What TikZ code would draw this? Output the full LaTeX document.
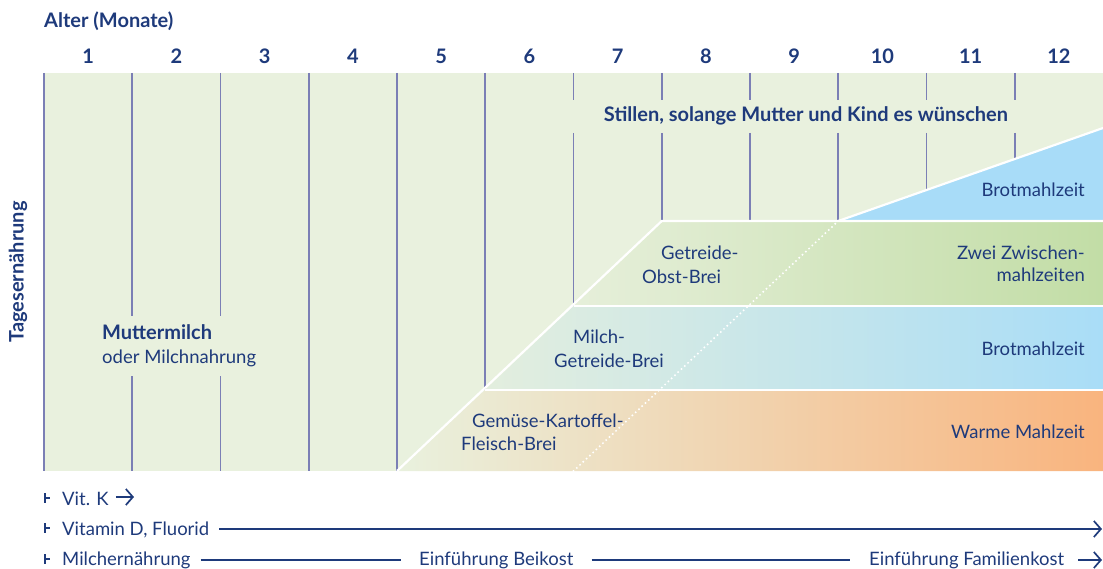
\documentclass[tikz,border=0pt]{standalone}
\usepackage{fontspec}
\setmainfont{Lato}
\usetikzlibrary{arrows.meta}

\definecolor{navy}{HTML}{1E3A7B}
\definecolor{bggreen}{HTML}{E9F1DE}
\definecolor{gridline}{HTML}{7B7FB5}
\definecolor{orangeR}{HTML}{F9B47E}
\definecolor{blueL}{HTML}{E3EEDE}
\definecolor{blueR}{HTML}{A9DDF7}
\definecolor{greenL}{HTML}{E6EFDA}
\definecolor{greenR}{HTML}{C2DDA6}
\definecolor{skyblue}{HTML}{A8DCF8}

\tikzset{
  lbl/.style={text=navy, inner sep=0pt, font=\fontsize{18.5}{22}\selectfont},
  boldlbl/.style={text=navy, inner sep=0pt, font=\fontsize{20}{24}\selectfont\bfseries},
  gridln/.style={gridline, line width=1.6pt},
  sepln/.style={white, line width=2.2pt},
  timeline/.style={navy, line width=1.5pt},
  barb/.style={-{Straight Barb[length=7pt,width=16pt,line width=1.7pt]}}
}

\begin{document}
\begin{tikzpicture}[x=1pt,y=-1pt]
\useasboundingbox (0,0) rectangle (1103,569);
\fill[bggreen] (44,73) rectangle (1103,471);
\foreach \i/\ya/\yb in {0/73/471, 1/73/316, 1/376/471, 2/73/316, 2/376/471, 3/73/471, 4/73/471, 5/73/390,
  6/73/100, 6/133/306, 7/73/100, 7/133/221, 8/73/100, 8/133/221, 9/73/100, 9/133/221,
  10/73/100, 10/133/190, 11/73/100, 11/133/159}
  \draw[gridln] ({44+\i*88.25},\ya) -- ({44+\i*88.25},\yb);
\shade[left color=bggreen, right color=orangeR] (397,471) -- (485.25,390) -- (1103,390) -- (1103,471) -- cycle;
\shade[left color=blueL, right color=blueR] (485.25,390) -- (573.5,306) -- (1103,306) -- (1103,390) -- cycle;
\shade[left color=greenL, right color=greenR] (573.5,306) -- (661.75,221) -- (1103,221) -- (1103,306) -- cycle;
\fill[skyblue] (838.25,221) -- (1103,128) -- (1103,221) -- cycle;
\draw[sepln] (397,471) -- (661.75,221) -- (1103,221);
\draw[sepln] (485.25,390) -- (1103,390);
\draw[sepln] (573.5,306) -- (1103,306);
\draw[sepln] (838.25,221) -- (1103,128);
\draw[white, line width=2.2pt, dash pattern=on 0pt off 4.5pt, line cap=round] (573.5,471) -- (838.25,221);

\node[boldlbl, anchor=base west] (alter) at (44,28) {Alter (Monate)};
\foreach \m in {1,...,12}
  \node[boldlbl, anchor=base] (m\m) at ({44+(\m-0.5)*88.25},64) {\m};
\node[boldlbl, rotate=90] (tages) at (18,272) {Tagesernährung};
\node[boldlbl, anchor=base] (stillen) at (806,122) {Stillen, solange Mutter und Kind es wünschen};
\node[boldlbl, anchor=base west] (mutter) at (102,340) {Muttermilch};
\node[lbl, anchor=base west] (milchnahrung) at (102,363) {oder Milchnahrung};
\node[lbl, anchor=base west] (getreide1) at (661,260) {Getreide-};
\node[lbl, anchor=base west] (getreide2) at (642,284) {Obst-Brei};
\node[lbl, anchor=base west] (milchbrei1) at (573,343) {Milch-};
\node[lbl, anchor=base west] (milchbrei2) at (554,367) {Getreide-Brei};
\node[lbl, anchor=base west] (gemuese1) at (472,427) {Gemüse-Kartoffel-};
\node[lbl, anchor=base west] (gemuese2) at (461,450) {Fleisch-Brei};
\node[lbl, anchor=base east] (brot1) at (1085,197) {Brotmahlzeit};
\node[lbl, anchor=base east] (zwei1) at (1085,260) {Zwei Zwischen-};
\node[lbl, anchor=base east] (zwei2) at (1085,282) {mahlzeiten};
\node[lbl, anchor=base east] (brot2) at (1085,355) {Brotmahlzeit};
\node[lbl, anchor=base east] (warm) at (1085,438) {Warme Mahlzeit};

\node[lbl, anchor=base west] (vitk) at (62,505) {Vit. K};
\node[lbl, anchor=base west] (vitd) at (62,535) {Vitamin D, Fluorid};
\node[lbl, anchor=base west] (milch) at (62,565) {Milchernährung};
\node[lbl, anchor=base west] (beikost) at (419,565) {Einführung Beikost};
\node[lbl, anchor=base west] (familie) at (869,565) {Einführung Familienkost};
\coordinate (endk) at (134,497);
\coordinate (endd) at (1102,529);
\coordinate (endm) at (1102,560);
\foreach \y in {498,528,559}
  \draw[navy, line width=1.4pt] (45,\y-5) -- (45,\y+5) (45,\y) -- (50,\y);
\draw[timeline, barb] (vitk.east |- endk) ++(7,0) -- (endk);
\draw[timeline, barb] (vitd.east |- endd) ++(10,0) -- (endd);
\draw[timeline] ([xshift=10pt]milch.east |- endm) -- ([xshift=-18pt]beikost.west |- endm);
\draw[timeline] ([xshift=18pt]beikost.east |- endm) -- ([xshift=-19pt]familie.west |- endm);
\draw[timeline, barb] ([xshift=14pt]familie.east |- endm) -- (endm);
\end{tikzpicture}
\end{document}
